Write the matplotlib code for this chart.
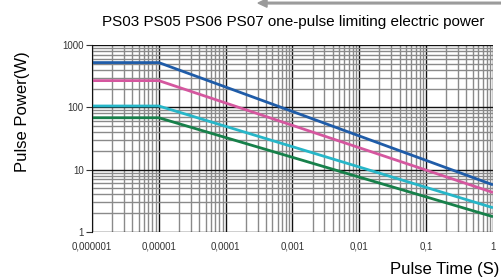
import matplotlib
matplotlib.use("Agg")
import matplotlib.pyplot as plt
from matplotlib.ticker import FixedLocator, NullFormatter

plt.rcParams["font.family"] = ["Liberation Sans", "DejaVu Sans"]

# pulse time (s) and limiting power (W) per device
pulse_time = [1e-6, 1e-5, 1.0]
power_ps07 = [522, 522, 5.7]
power_ps06 = [268, 268, 4.3]
power_ps05 = [105, 105, 2.45]
power_ps03 = [68, 68, 1.76]

series = [
    (power_ps07, "#1f5ca8"),
    (power_ps06, "#d5579f"),
    (power_ps05, "#27b6c8"),
    (power_ps03, "#17804a"),
]

x_ticks = [1e-6, 1e-5, 1e-4, 1e-3, 1e-2, 1e-1, 1]
x_labels = ["0,000001", "0,00001", "0,0001", "0,001", "0,01", "0,1", "1"]
y_ticks = [1, 10, 100, 1000]
y_labels = ["1", "10", "100", "1000"]

fig = plt.figure(figsize=(5.01, 2.78), dpi=100)
ax = fig.add_axes([0.1836, 0.1655, 0.8004, 0.6727])

ax.set_xscale("log")
ax.set_yscale("log")
ax.set_xlim(1e-6, 1)
ax.set_ylim(1, 1000)

minor_x = [m * 10.0 ** e for e in range(-6, 0) for m in range(2, 10)]
minor_y = [m * 10.0 ** e for e in range(0, 3) for m in range(2, 10)]
ax.xaxis.set_minor_locator(FixedLocator(minor_x))
ax.yaxis.set_minor_locator(FixedLocator(minor_y))
ax.xaxis.set_minor_formatter(NullFormatter())
ax.yaxis.set_minor_formatter(NullFormatter())
ax.set_xticks(x_ticks)
ax.set_xticklabels(x_labels)
ax.set_yticks(y_ticks)
ax.set_yticklabels(y_labels)

ax.grid(which="minor", color="#8a8a8a", linewidth=1.0)
ax.grid(which="major", color="#111111", linewidth=1.0)
ax.set_axisbelow(True)

for vals, color in series:
    ax.plot(pulse_time, vals, color=color, linewidth=2.0, solid_capstyle="butt")

for s in ["top", "right", "bottom"]:
    ax.spines[s].set_visible(False)
ax.spines["left"].set_color("#111111")

ax.tick_params(axis="x", which="both", length=0, labelsize=7, colors="#333333", pad=7)
ax.tick_params(axis="y", which="major", length=4, labelsize=7, colors="#333333", pad=2)
ax.tick_params(axis="y", which="minor", length=0)

fig.text(0.586, 0.922, "PS03 PS05 PS06 PS07 one-pulse limiting electric power",
         ha="center", va="center", fontsize=11)
fig.text(0.044, 0.60, "Pulse Power(W)", rotation=90, ha="center", va="center", fontsize=12)
fig.text(0.996, 0.03, "Pulse Time (S)", ha="right", va="center", fontsize=12)

fig.patches.append(matplotlib.patches.FancyArrow(
    1.0, 0.989, -0.485, 0, width=0.006, head_width=0.03, head_length=0.018,
    length_includes_head=True, color="#9a9a9a", transform=fig.transFigure, figure=fig))

fig.savefig("out.png", dpi=100)
